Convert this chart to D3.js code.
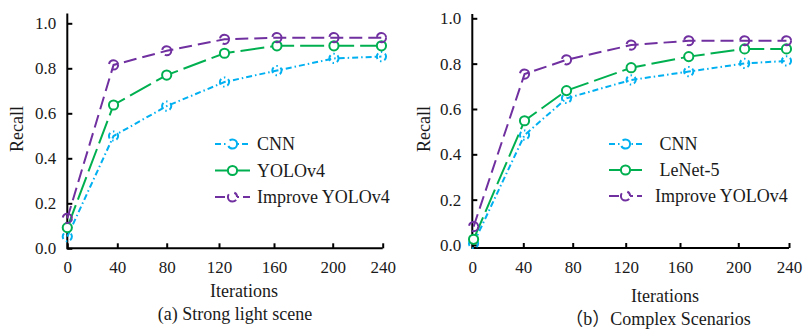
<!DOCTYPE html>
<html><head><meta charset="utf-8">
<script src="https://cdn.jsdelivr.net/npm/d3@7"></script>
<style>
body{margin:0;background:#fff;}
text{font-family:"Liberation Serif","Times New Roman","Noto Sans CJK SC",serif;fill:#1a1a1a;}
</style></head>
<body><svg id="chart" width="804" height="330"></svg>
<script>
// ---- data ----
const iterTicks = [0, 40, 80, 120, 160, 200, 240];
const recallTicks = [0, 0.2, 0.4, 0.6, 0.8, 1.0];

// panel (a) Strong light scene
const itersA = [0, 37, 80, 124, 162, 201, 239];
const cnnA = [0.052, 0.499, 0.632, 0.739, 0.790, 0.844, 0.852];
const yolov4A = [0.092, 0.637, 0.770, 0.867, 0.900, 0.900, 0.900];
const improveA = [0.133, 0.815, 0.878, 0.929, 0.936, 0.936, 0.936];

// panel (b) Complex Scenarios
const itersB = [1, 41, 75, 124, 166, 205, 238];
const cnnB = [0.007, 0.485, 0.647, 0.728, 0.765, 0.801, 0.812];
const lenetB = [0.025, 0.548, 0.681, 0.782, 0.831, 0.865, 0.865];
const improveB = [0.081, 0.754, 0.817, 0.882, 0.901, 0.901, 0.901];

const seriesNamesA = ["CNN", "YOLOv4", "Improve YOLOv4"];
const seriesNamesB = [" CNN", " LeNet-5", "Improve YOLOv4"];
const captionA = "(a) Strong light scene";
const captionB = "（b）Complex Scenarios";
const xTitle = "Iterations";
const yTitle = "Recall";

// ---- styles ----
const styles = [
  {color: "#00B0F0", dash: "6,3,1.5,3"},
  {color: "#00B050", dash: "24,6"},
  {color: "#7030A0", dash: "13,6"}
];

const svg = d3.select("#chart");

function drawPanel(cfg) {
  const g = svg.append("g");
  const x = d3.scaleLinear().domain(iterTicks).range(cfg.xTickPos);
  const y = d3.scaleLinear().domain([0, 1]).range(cfg.yRange);
  const axisY = cfg.xAxisY;

  // x axis
  const xa = g.append("g").attr("transform", `translate(0,${axisY})`)
    .call(d3.axisBottom(x).tickValues(iterTicks).tickSize(-5).tickSizeOuter(0).tickPadding(13).tickFormat(d3.format("d")));
  xa.select(".domain").remove();
  xa.selectAll("line").attr("stroke", "#000").attr("stroke-width", 2);
  xa.selectAll("text").attr("font-size", 17).attr("fill", "#1a1a1a")
    .attr("font-family", "Liberation Serif");

  // y axis
  const ya = g.append("g").attr("transform", `translate(${cfg.xTickPos[0]},0)`)
    .call(d3.axisLeft(y).tickValues(recallTicks).tickSize(-5).tickSizeOuter(0).tickPadding(11).tickFormat(d3.format(".1f")));
  ya.select(".domain").remove();
  ya.selectAll("line").attr("stroke", "#000").attr("stroke-width", 2);
  ya.selectAll("text").attr("font-size", 17).attr("fill", "#1a1a1a")
    .attr("font-family", "Liberation Serif");

  // axis lines
  g.append("line").attr("x1", cfg.xTickPos[0]).attr("x2", cfg.xTickPos[cfg.xTickPos.length - 1])
    .attr("y1", axisY).attr("y2", axisY).attr("stroke", "#000").attr("stroke-width", 2);
  g.append("line").attr("x1", cfg.xTickPos[0]).attr("x2", cfg.xTickPos[0])
    .attr("y1", axisY + 1).attr("y2", cfg.yAxisTop).attr("stroke", "#000").attr("stroke-width", 2);

  // series
  const line = d3.line().x(d => x(d[0])).y(d => y(d[1]));
  cfg.series.forEach((vals, i) => {
    const st = styles[i];
    const pts = cfg.iters.map((it, j) => [it, vals[j]]);
    g.append("path").datum(pts).attr("d", line).attr("fill", "none")
      .attr("stroke", st.color).attr("stroke-width", 2).attr("stroke-dasharray", st.dash);
  });
  cfg.series.forEach((vals, i) => {
    const st = styles[i];
    const pts = cfg.iters.map((it, j) => [it, vals[j]]);
    g.selectAll(null).data(pts).enter().append("circle")
      .attr("cx", d => x(d[0])).attr("cy", d => y(d[1])).attr("r", 4.6)
      .attr("fill", i === 1 ? "#fff" : "none").attr("stroke", st.color).attr("stroke-width", 2)
      .attr("stroke-dasharray", i === 1 ? null : st.dash)
      .attr("stroke-dashoffset", i === 0 ? 2 : 4);
  });

  // legend
  cfg.names.forEach((name, i) => {
    const st = styles[i];
    const ly = cfg.legendY[i];
    const lx = cfg.legendLine;
    g.append("line").attr("x1", lx[0]).attr("x2", lx[1]).attr("y1", ly).attr("y2", ly)
      .attr("stroke", st.color).attr("stroke-width", 2)
      .attr("stroke-dasharray", i === 1 ? null : (i === 0 ? "6,3,1.5,3" : "10,4"));
    g.append("circle").attr("cx", (lx[0] + lx[1]) / 2).attr("cy", ly).attr("r", 4.6)
      .attr("fill", "#fff").attr("stroke", st.color).attr("stroke-width", 2)
      .attr("stroke-dasharray", i === 1 ? null : (i === 0 ? "14,6" : "14,6"))
      .attr("stroke-dashoffset", i === 0 ? 2 : 17);
    g.append("text").attr("x", cfg.legendTextX[i]).attr("y", ly + 6)
      .attr("font-size", 18).style("white-space", "pre").text(name);
  });

  // titles
  g.append("text").attr("transform", `translate(${cfg.yTitlePos[0]},${cfg.yTitlePos[1]}) rotate(-90)`)
    .attr("text-anchor", "middle").attr("font-size", 18).text(yTitle);
  g.append("text").attr("x", cfg.xTitlePos[0]).attr("y", cfg.xTitlePos[1])
    .attr("text-anchor", "middle").attr("font-size", 18).text(xTitle);
  g.append("text").attr("x", cfg.captionPos[0]).attr("y", cfg.captionPos[1])
    .attr("text-anchor", "middle").attr("font-size", 18).text(cfg.caption);
}

drawPanel({
  iters: itersA, series: [cnnA, yolov4A, improveA], names: seriesNamesA, caption: captionA,
  xTickPos: [67.3, 117.3, 166.7, 219, 274, 332.7, 382.7],
  yRange: [248.3, 23.3], xAxisY: 248.3, yAxisTop: 13.5,
  legendY: [144, 170.5, 197], legendLine: [215, 250], legendTextX: [257, 257, 257],
  yTitlePos: [23, 129], xTitlePos: [244, 296.5], captionPos: [235, 320]
});
drawPanel({
  iters: itersB, series: [cnnB, lenetB, improveB], names: seriesNamesB, caption: captionB,
  xTickPos: [472.3, 523.3, 572.7, 625.7, 680, 738.3, 789],
  yRange: [245, 18.3], xAxisY: 248, yAxisTop: 14,
  legendY: [144, 170, 196], legendLine: [609, 642], legendTextX: [655, 655, 655],
  yTitlePos: [430, 129], xTitlePos: [665, 301.5], captionPos: [658, 325]
});
</script></body></html>
